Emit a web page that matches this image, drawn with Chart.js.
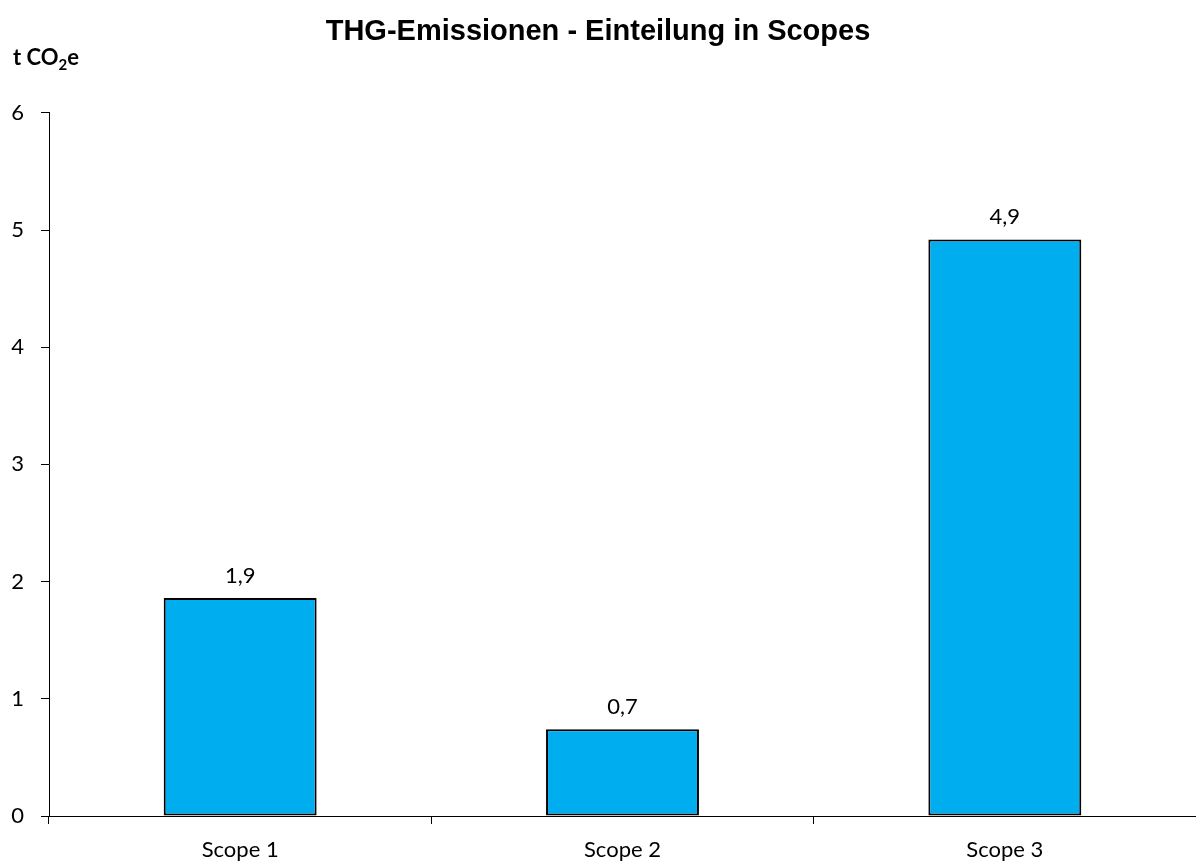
<!DOCTYPE html>
<html>
<head>
<meta charset="utf-8">
<script src="https://cdn.jsdelivr.net/npm/chart.js@4"></script>
<style>
  body { margin: 0; background: #fff; }
  #wrap { width: 1196px; height: 863px; }
</style>
</head>
<body>
<div id="wrap"><canvas id="myChart" width="1196" height="863"></canvas></div>
<script>
// THG-Emissionen nach Scopes
var scopes = ['Scope 1', 'Scope 2', 'Scope 3'];
var emissions = [1.86, 0.74, 4.92];
var yTicks = [0, 1, 2, 3, 4, 5, 6];

var labelFont = 'Lato, "Open Sans", sans-serif';

// value labels above bars + unit label "t CO2e" top left
var extraText = {
  id: 'extraText',
  afterDatasetsDraw: function(chart) {
    var ctx = chart.ctx;
    var meta = chart.getDatasetMeta(0);
    ctx.save();
    ctx.fillStyle = '#000';
    ctx.font = '22px ' + labelFont;
    ctx.textAlign = 'center';
    ctx.textBaseline = 'middle';
    meta.data.forEach(function(bar, i) {
      var txt = emissions[i].toFixed(1).replace('.', ',');
      ctx.fillText(txt, bar.x, bar.y - 22);
    });

    // unit label with subscript 2
    ctx.textAlign = 'left';
    ctx.textBaseline = 'alphabetic';
    ctx.font = 'bold 22px ' + labelFont;
    var x = 13, y = 65;
    ctx.fillText('t CO', x, y);
    x += ctx.measureText('t CO').width;
    ctx.font = 'bold 15px ' + labelFont;
    ctx.fillText('2', x, y + 5);
    x += ctx.measureText('2').width;
    ctx.font = 'bold 22px ' + labelFont;
    ctx.fillText('e', x, y);
    ctx.restore();
  }
};

var ctx = document.getElementById('myChart').getContext('2d');
var myChart = new Chart(ctx, {
  type: 'bar',
  data: {
    labels: scopes,
    datasets: [{
      data: emissions,
      backgroundColor: '#00AEEF',
      borderColor: '#000',
      borderWidth: 2,
      borderSkipped: false,
      barPercentage: 0.4,
      categoryPercentage: 1
    }]
  },
  options: {
    responsive: false,
    animation: false,
    layout: { padding: { left: 0, right: 0, top: 0, bottom: 0 } },
    plugins: {
      legend: { display: false },
      tooltip: { enabled: false },
      title: {
        display: true,
        text: 'THG-Emissionen - Einteilung in Scopes',
        color: '#000',
        font: { family: '"Liberation Sans", Arial, sans-serif', size: 29, weight: 'bold' },
        padding: { top: 15, bottom: 63 }
      }
    },
    scales: {
      x: {
        grid: {
          offset: true,
          drawOnChartArea: false,
          drawTicks: true,
          tickLength: 8,
          color: '#000'
        },
        border: { display: true, color: '#000', width: 1 },
        ticks: {
          color: '#000',
          padding: 13,
          font: { family: labelFont, size: 22 }
        },
        afterFit: function(scale) { scale.height = 47; }
      },
      y: {
        min: 0,
        max: 6,
        afterBuildTicks: function(scale) {
          scale.ticks = yTicks.map(function(v) { return { value: v }; });
        },
        grid: {
          drawOnChartArea: false,
          drawTicks: true,
          tickLength: 8,
          color: '#000'
        },
        border: { display: true, color: '#000', width: 1 },
        ticks: {
          color: '#000',
          padding: 17,
          font: { family: labelFont, size: 22 }
        },
        afterFit: function(scale) { scale.width = 49; }
      }
    }
  },
  plugins: [extraText]
});
</script>
</body>
</html>
